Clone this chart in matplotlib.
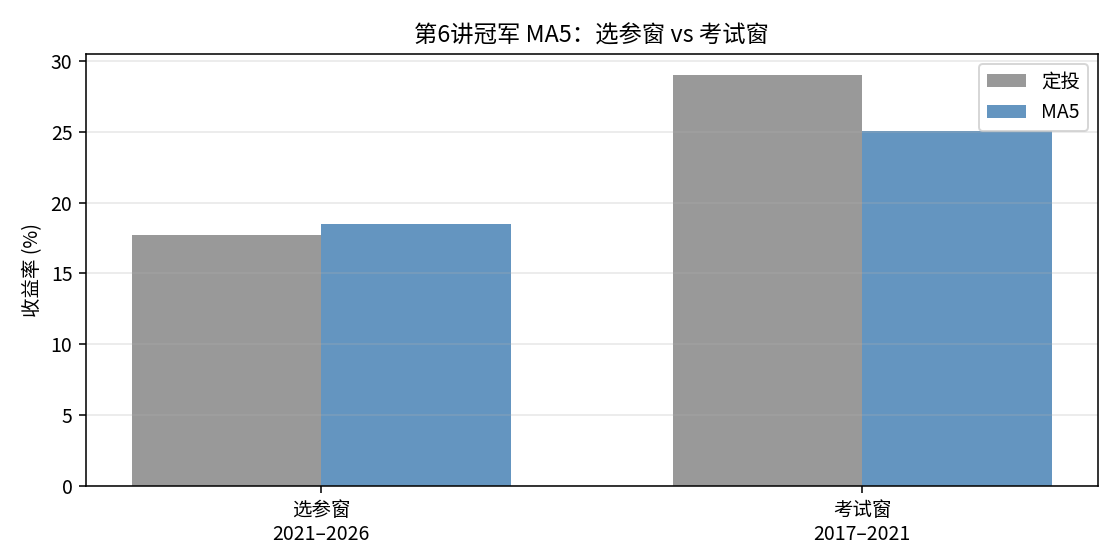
import numpy as np
import matplotlib
matplotlib.use("Agg")
import matplotlib.pyplot as plt

plt.rcParams['font.family'] = ['Noto Sans CJK SC', 'DejaVu Sans']
plt.rcParams['axes.unicode_minus'] = False

# 数据
windows = ["选参窗\n2021–2026", "考试窗\n2017–2021"]
dca_ret = [17.73, 29.03]   # 定投
ma5_ret = [18.5, 25.07]    # MA5

x = np.arange(len(windows))
w = 0.35

fig, ax = plt.subplots(figsize=(8, 4), dpi=140)
ax.bar(x - w / 2, dca_ret, w, color="#999999", label="定投")
ax.bar(x + w / 2, ma5_ret, w, color="#6495c0", label="MA5")

ax.set_xticks(x)
ax.set_xticklabels(windows)
ax.set_ylabel("收益率 (%)")
ax.set_title("第6讲冠军 MA5：选参窗 vs 考试窗")
ax.grid(axis="y", alpha=0.3)
ax.legend(loc="upper right")

fig.subplots_adjust(left=0.0768, right=0.980, top=0.9036, bottom=0.132)
fig.savefig("out.png")
